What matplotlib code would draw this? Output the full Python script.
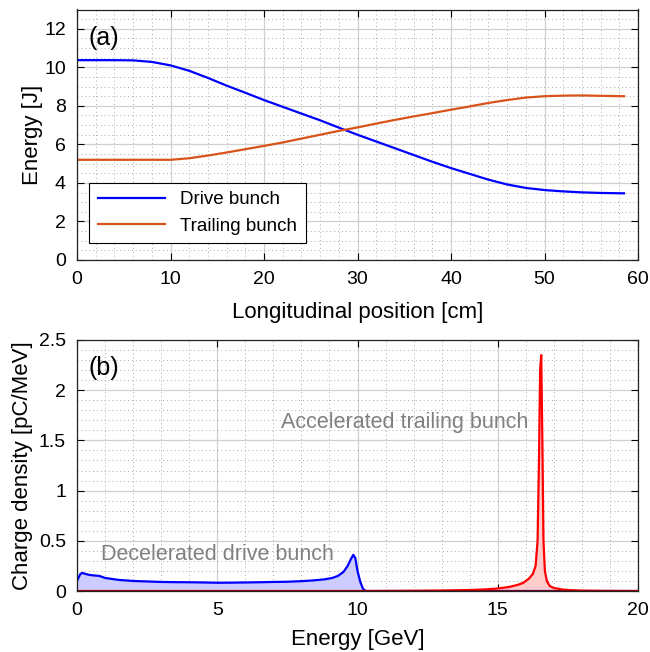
import numpy as np
import matplotlib.pyplot as plt
from matplotlib.ticker import MultipleLocator

plt.rcParams['font.family'] = ['Liberation Sans', 'DejaVu Sans']
plt.rcParams['font.size'] = 12.5

# (a) energy in the bunches along the plasma
z_cm = [0, 2, 4, 6, 8, 10, 12, 14, 16, 18, 20, 22, 24, 26, 28, 30, 32, 34, 36, 38,
        40, 42, 44, 46, 48, 50, 52, 54, 56, 58.5]
drive_J = [10.37, 10.37, 10.37, 10.36, 10.28, 10.1, 9.82, 9.45, 9.05, 8.68, 8.3, 7.95,
           7.6, 7.25, 6.87, 6.5, 6.15, 5.8, 5.45, 5.1, 4.77, 4.47, 4.17, 3.92, 3.74,
           3.63, 3.56, 3.51, 3.48, 3.46]
trail_J = [5.2, 5.2, 5.2, 5.2, 5.2, 5.2, 5.28, 5.42, 5.58, 5.75, 5.92, 6.1, 6.3,
           6.5, 6.7, 6.88, 7.08, 7.27, 7.45, 7.62, 7.8, 7.97, 8.15, 8.3, 8.43, 8.5,
           8.53, 8.54, 8.52, 8.5]

# (b) final energy spectra
E_drive = [0.0, 0.05, 0.12, 0.2, 0.3, 0.45, 0.6, 0.8, 1.0, 1.25, 1.5, 2.0, 2.5, 3.0,
           3.5, 4.0, 4.5, 5.0, 5.5, 6.0, 6.5, 7.0, 7.5, 8.0, 8.4, 8.8, 9.1, 9.3,
           9.5, 9.65, 9.75, 9.85, 9.92, 10.0, 10.1, 10.2, 10.3, 10.4, 12.0, 20.0]
q_drive = [0.1, 0.13, 0.17, 0.18, 0.17, 0.16, 0.155, 0.15, 0.13, 0.12, 0.11, 0.1,
           0.095, 0.09, 0.088, 0.087, 0.085, 0.082, 0.083, 0.085, 0.087, 0.09, 0.092,
           0.098, 0.105, 0.115, 0.13, 0.15, 0.19, 0.25, 0.31, 0.36, 0.33, 0.2, 0.09,
           0.02, 0.0, 0.0, 0.0, 0.0]
E_trail = [0.0, 10.0, 12.0, 13.0, 14.0, 14.5, 15.0, 15.4, 15.7, 15.9, 16.1, 16.25,
           16.35, 16.42, 16.47, 16.51, 16.55, 16.59, 16.63, 16.68, 16.75, 16.85, 17.0,
           17.3, 17.6, 18.0, 18.5, 19.0, 20.0]
q_trail = [0.0, 0.0, 0.002, 0.005, 0.01, 0.015, 0.025, 0.04, 0.06, 0.08, 0.12,
           0.17, 0.25, 0.5, 1.3, 2.2, 2.35, 1.5, 0.5, 0.2, 0.1, 0.05, 0.03, 0.015,
           0.008, 0.004, 0.002, 0.001, 0.0]

fig = plt.figure(figsize=(6.5, 6.52), dpi=100)
ax1 = fig.add_axes([77/650, 1-260/652, 561/650, 250.5/652])
ax2 = fig.add_axes([77/650, 1-591/652, 561/650, 251/652])


def style(ax):
    ax.grid(which='major', color='#d0d0d0', lw=0.9, ls='-')
    ax.grid(which='minor', color='#aaaaaa', lw=0.7, ls=(0, (1, 3)))
    ax.set_axisbelow(True)
    ax.tick_params(which='both', direction='in', top=True, right=True)
    ax.tick_params(which='major', length=5, width=0.8, pad=8, labelsize=14)
    ax.tick_params(which='minor', length=0)
    for s in ax.spines.values():
        s.set_color('#222222')
        s.set_linewidth(0.9)


ax1.plot(z_cm, drive_J, color='#0000ff', lw=1.6, label='Drive bunch')
ax1.plot(z_cm, trail_J, color='#d95319', lw=1.6, label='Trailing bunch')
ax1.set_xlim(0, 60)
ax1.set_ylim(0, 13)
ax1.xaxis.set_major_locator(MultipleLocator(10))
ax1.xaxis.set_minor_locator(MultipleLocator(2))
ax1.yaxis.set_major_locator(MultipleLocator(2))
ax1.yaxis.set_minor_locator(MultipleLocator(0.5))
style(ax1)
ax1.set_xlabel('Longitudinal position [cm]', fontsize=16, labelpad=10)
ax1.set_ylabel('Energy [J]', fontsize=16, labelpad=1)
ax1.text(0.02, 0.935, '(a)', transform=ax1.transAxes, fontsize=18, va='top')
leg = ax1.legend(loc='lower left', bbox_to_anchor=(0.005, 0.03), fancybox=False,
                 framealpha=1, edgecolor='black', fontsize=13.5, handlelength=3.6,
                 borderpad=0.45, labelspacing=0.5)
leg.get_frame().set_linewidth(0.8)

ax2.fill_between(E_drive, q_drive, color='#ccccff', lw=0)
ax2.fill_between(E_trail, q_trail, color='#ffcccc', lw=0)
ax2.plot(E_drive, q_drive, color='#0000ff', lw=1.6)
ax2.plot(E_trail, q_trail, color='#ff0000', lw=1.6)
ax2.axhline(0, color='#8b0000', lw=1.2)
ax2.set_xlim(0, 20)
ax2.set_ylim(0, 2.5)
ax2.xaxis.set_major_locator(MultipleLocator(5))
ax2.xaxis.set_minor_locator(MultipleLocator(1))
ax2.yaxis.set_major_locator(MultipleLocator(0.5))
ax2.yaxis.set_minor_locator(MultipleLocator(0.1))
ax2.set_yticks([0, 0.5, 1, 1.5, 2, 2.5], ['0', '0.5', '1', '1.5', '2', '2.5'])
style(ax2)
ax2.set_xlabel('Energy [GeV]', fontsize=16, labelpad=7)
ax2.set_ylabel('Charge density [pC/MeV]', fontsize=16, labelpad=4)
ax2.text(0.02, 0.935, '(b)', transform=ax2.transAxes, fontsize=18, va='top')
ax2.text(11.7, 1.68, 'Accelerated trailing bunch', color='#808080', fontsize=15.5,
         ha='center', va='center')
ax2.text(5.0, 0.36, 'Decelerated drive bunch', color='#808080', fontsize=15.5,
         ha='center', va='center')

fig.savefig('out.png', dpi=100)
